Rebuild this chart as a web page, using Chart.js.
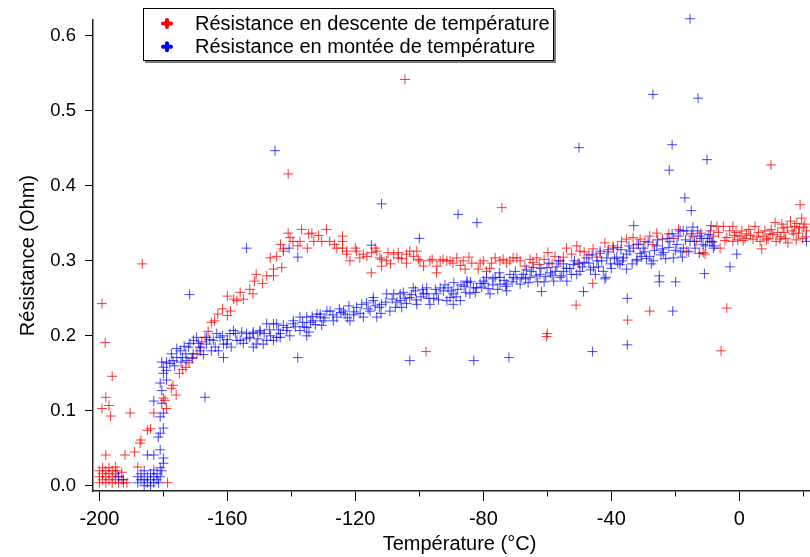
<!DOCTYPE html>
<html lang="fr">
<head>
<meta charset="utf-8">
<title>Résistance en fonction de la température</title>
<script src="https://cdn.jsdelivr.net/npm/chart.js@4/dist/chart.umd.min.js"></script>
<style>
  html, body { margin: 0; padding: 0; background: #fff; }
  canvas { display: block; }
</style>
</head>
<body>
<canvas id="c" width="810" height="557"></canvas>
<script>
// Mesures [température (°C), résistance (Ohm)]
const descente = [
  [21,0.340],[20.8,0.332],[20.5,0.349],[20,0.345],[19.8,0.330],[19.5,0.357],[19,0.375],[18.8,0.344],[18.5,0.337],[18,0.350],
  [17.8,0.328],[17.3,0.346],[17,0.336],[16.5,0.340],[16,0.353],[15.2,0.324],[15,0.345],[14.5,0.330],[14,0.338],[13.7,0.344],
  [13.3,0.349],[13,0.332],[12.7,0.329],[12,0.338],[11.5,0.326],[11.2,0.351],[10.5,0.335],[10,0.342],[9.9,0.428],[9.6,0.336],
  [9,0.330],[8.5,0.328],[8,0.340],[7.4,0.333],[7,0.316],[6.5,0.326],[6,0.338],[5.5,0.332],[4.9,0.346],[4.3,0.329],
  [3.5,0.334],[3,0.342],[2.3,0.336],[1.8,0.330],[1.2,0.327],[0.8,0.340],[0.2,0.333],[-0.5,0.328],[-1,0.338],[-1.5,0.334],
  [-2,0.346],[-2,0.326],[-3,0.340],[-3.9,0.331],[-3.9,0.237],[-4.5,0.327],[-5,0.346],[-5.7,0.180],[-6,0.317],[-6.5,0.338],
  [-7,0.346],[-8,0.333],[-8.5,0.326],[-9,0.340],[-10.7,0.309],[-11.3,0.311],[-12,0.337],[-13.3,0.326],[-14.5,0.333],[-16.4,0.313],
  [-17.5,0.340],[-19,0.342],[-20.5,0.330],[-22,0.336],[-24,0.329],[-25.8,0.337],[-27,0.322],[-28,0.333],[-28,0.233],[-29.5,0.326],
  [-31,0.329],[-32,0.322],[-33.2,0.331],[-34.9,0.221],[-35.2,0.329],[-36.8,0.326],[-38,0.318],[-39.5,0.320],[-41,0.315],[-42,0.324],
  [-43.5,0.310],[-44.5,0.305],[-45.7,0.316],[-45.8,0.270],[-47,0.308],[-48.5,0.312],[-49.8,0.313],[-50.4,0.297],[-50.8,0.320],[-51,0.241],
  [-52.4,0.309],[-54,0.317],[-55,0.305],[-56,0.300],[-57.6,0.306],[-58.5,0.296],[-59.8,0.311],[-60,0.203],[-60.2,0.199],[-61,0.302],
  [-62.5,0.295],[-63.3,0.304],[-64.5,0.298],[-65.4,0.302],[-67,0.293],[-68.5,0.300],[-69.5,0.304],[-70.7,0.304],[-71.7,0.300],[-72.7,0.297],
  [-73.8,0.302],[-74.2,0.371],[-74.8,0.300],[-76.3,0.304],[-77.4,0.297],[-78,0.290],[-79,0.286],[-80,0.300],[-81,0.297],[-81.6,0.289],
  [-83.6,0.297],[-84.5,0.305],[-85.7,0.289],[-86.3,0.300],[-87.2,0.294],[-88.3,0.304],[-89.5,0.297],[-90.4,0.300],[-91.4,0.300],[-92.6,0.302],
  [-93.5,0.300],[-94.5,0.293],[-94.6,0.284],[-96,0.302],[-96.7,0.300],[-97.9,0.179],[-98.7,0.293],[-99.8,0.300],[-100.3,0.302],[-100.8,0.313],
  [-101.8,0.306],[-103,0.313],[-104,0.297],[-104,0.309],[-104.5,0.542],[-105.5,0.303],[-106.6,0.304],[-106.6,0.311],[-108,0.309],[-109,0.296],
  [-109.8,0.311],[-110.2,0.300],[-111.8,0.293],[-111.8,0.302],[-112.3,0.304],[-113.3,0.313],[-113.8,0.317],[-114.9,0.311],[-115,0.284],[-116.4,0.306],
  [-117.5,0.309],[-118.6,0.304],[-119.6,0.313],[-120,0.317],[-121.7,0.300],[-122.7,0.309],[-122.7,0.313],[-124,0.317],[-124,0.326],[-124,0.333],
  [-125.8,0.317],[-126.5,0.322],[-128,0.326],[-129,0.342],[-130.5,0.326],[-131.5,0.334],[-133,0.326],[-133.6,0.337],[-134.6,0.336],[-135,0.317],
  [-136.8,0.342],[-137.3,0.326],[-138,0.320],[-139.5,0.326],[-140.4,0.331],[-141,0.337],[-141,0.416],[-142.5,0.313],[-142.5,0.316],[-143,0.291],
  [-143.4,0.322],[-144.6,0.306],[-145.6,0.289],[-145.6,0.280],[-146.6,0.304],[-147.7,0.280],[-149,0.270],[-151,0.282],[-151.5,0.273],[-152,0.256],
  [-153,0.262],[-155,0.249],[-156,0.258],[-157,0.247],[-158,0.249],[-159,0.233],[-160,0.253],[-160,0.227],[-161.5,0.236],[-163,0.229],
  [-164,0.220],[-165,0.218],[-166,0.206],[-167,0.198],[-168,0.192],[-168.5,0.184],[-169.5,0.176],[-171,0.171],[-172,0.164],[-173,0.158],
  [-174,0.155],[-175,0.150],[-176,0.121],[-177,0.134],[-177.5,0.130],[-178.7,0.004],[-179,0.103],[-179.5,0.114],[-180,0.117],[-183,0.097],
  [-184,0.076],[-185,0.074],[-186.6,0.296],[-187,0.061],[-187.3,0.057],[-188,0.025],[-189,0.045],[-190.4,0.097],[-191.4,0.004],[-192,0.041],
  [-192.5,0.004],[-193,0.008],[-193,0.018],[-194,0.004],[-194,0.012],[-194.5,0.020],[-195,0.008],[-195,0.016],[-195,0.025],[-196,0.004],
  [-196,0.012],[-196,0.020],[-196,0.146],[-196.5,0.093],[-197,0.008],[-197,0.016],[-197,0.024],[-197,0.107],[-198,0.004],[-198,0.012],
  [-198,0.020],[-198,0.041],[-198,0.118],[-198.2,0.191],[-199,0.008],[-199,0.016],[-199,0.024],[-199.2,0.243],[-199.2,0.103],[-200,0.004],
  [-200,0.012],[-200,0.020]
];

const montee = [
  [-194,0.012],[-192.5,0.008],[-188,0.004],[-188,0.012],[-187,0.008],[-187,0.016],[-186,0.000],[-186,0.008],[-186,0.020],[-185,0.004],
  [-185,0.012],[-184,0.000],[-184,0.008],[-184,0.016],[-183,0.004],[-183,0.012],[-183,0.021],[-182,0.008],[-182,0.016],[-181.5,0.004],
  [-181,0.012],[-181,0.024],[-180.5,0.020],[-180,0.030],[-185,0.041],[-183,0.041],[-181,0.048],[-180,0.037],[-181.6,0.065],[-181,0.070],
  [-180,0.077],[-181,0.092],[-180,0.097],[-180.5,0.110],[-183,0.113],[-180.5,0.127],[-181,0.137],[-179,0.141],[-180,0.150],[-180.5,0.165],
  [-180,0.158],[-179,0.165],[-179,0.154],[-178,0.163],[-177,0.167],[-177.5,0.176],[-176.5,0.160],[-175.8,0.183],[-175.8,0.171],[-174.7,0.180],
  [-174.5,0.165],[-174,0.171],[-173.5,0.186],[-173,0.176],[-172.7,0.167],[-172.2,0.185],[-171.8,0.255],[-171.7,0.190],[-171,0.170],[-170.7,0.176],
  [-170.6,0.194],[-169.6,0.198],[-169,0.190],[-168.5,0.185],[-168.5,0.180],[-167.5,0.175],[-167,0.118],[-166.5,0.189],[-166.5,0.198],[-165.5,0.195],
  [-165,0.180],[-164.4,0.194],[-163.8,0.185],[-163.3,0.203],[-162.8,0.180],[-162.3,0.198],[-161.5,0.200],[-161.2,0.171],[-161.2,0.189],[-160.2,0.189],
  [-160,0.195],[-159.2,0.203],[-158.8,0.185],[-158.1,0.207],[-157.5,0.203],[-157,0.194],[-156,0.194],[-155.5,0.205],[-155,0.190],[-154,0.196],
  [-154,0.317],[-154,0.203],[-153,0.198],[-152,0.203],[-151.9,0.185],[-151.9,0.205],[-151,0.189],[-150.5,0.196],[-149.8,0.205],[-149.8,0.207],
  [-148.8,0.189],[-148.5,0.203],[-147.7,0.216],[-147.7,0.194],[-146.8,0.208],[-146.5,0.200],[-145.6,0.194],[-145.6,0.216],[-145.1,0.447],[-144.6,0.216],
  [-144.6,0.198],[-144,0.208],[-143.5,0.198],[-143.4,0.203],[-142.5,0.214],[-141.4,0.207],[-141.4,0.211],[-140.7,0.317],[-140.5,0.200],[-139.4,0.216],
  [-139.4,0.220],[-138.8,0.212],[-138,0.305],[-138,0.171],[-137.3,0.207],[-137.3,0.225],[-136.5,0.218],[-136,0.212],[-135.2,0.225],[-135.2,0.211],
  [-135.2,0.200],[-134.5,0.205],[-134,0.218],[-133.5,0.226],[-133.2,0.220],[-132.5,0.215],[-132,0.229],[-131,0.225],[-131,0.229],[-130.5,0.214],
  [-130,0.220],[-129.5,0.224],[-128.9,0.233],[-127.9,0.233],[-127,0.228],[-126.9,0.220],[-125.8,0.225],[-125,0.236],[-124.5,0.231],[-123.7,0.233],
  [-123.2,0.229],[-122.5,0.224],[-122,0.240],[-121.7,0.220],[-120.5,0.228],[-120.5,0.232],[-119.6,0.238],[-118.5,0.230],[-118,0.242],[-117.5,0.225],
  [-116.5,0.244],[-116,0.236],[-115.4,0.233],[-115,0.321],[-114.4,0.247],[-114.4,0.251],[-113.8,0.240],[-113.3,0.225],[-112.5,0.238],[-112,0.230],
  [-111.8,0.242],[-111.8,0.376],[-110.5,0.245],[-110.2,0.256],[-109.2,0.233],[-108.5,0.249],[-108,0.256],[-107.5,0.238],[-107,0.245],[-106,0.256],
  [-106,0.247],[-105.5,0.238],[-105,0.258],[-104.5,0.250],[-104,0.243],[-103,0.251],[-103,0.167],[-102.5,0.255],[-101.9,0.264],[-101.2,0.260],
  [-101,0.248],[-100.8,0.242],[-100,0.330],[-99.5,0.252],[-99,0.262],[-98.7,0.256],[-97.7,0.264],[-97.7,0.256],[-97,0.250],[-96.7,0.242],
  [-95.5,0.250],[-95,0.262],[-94.6,0.256],[-94,0.248],[-93.5,0.264],[-92.5,0.260],[-92,0.268],[-91.4,0.247],[-91,0.264],[-90.4,0.251],
  [-90,0.260],[-89.4,0.242],[-89.4,0.256],[-89.2,0.271],[-88.5,0.252],[-88,0.262],[-87.9,0.362],[-87.2,0.247],[-87,0.268],[-86,0.266],
  [-85.5,0.258],[-85.1,0.271],[-85.1,0.273],[-84.2,0.256],[-84,0.272],[-83.1,0.264],[-83,0.167],[-82.5,0.258],[-82.1,0.264],[-82,0.351],
  [-81,0.270],[-80.5,0.265],[-80,0.273],[-79.5,0.270],[-79,0.278],[-78.5,0.263],[-77.9,0.256],[-77,0.268],[-77,0.276],[-76.3,0.278],
  [-75.5,0.262],[-75,0.284],[-74.8,0.269],[-74.8,0.278],[-73.5,0.274],[-73,0.266],[-72.7,0.260],[-72.7,0.269],[-72,0.171],[-71.7,0.282],
  [-71,0.272],[-70.6,0.278],[-70,0.286],[-69.5,0.276],[-68.5,0.269],[-68,0.278],[-67.5,0.282],[-66.8,0.276],[-66.5,0.288],[-66,0.271],
  [-65.4,0.278],[-65,0.286],[-64.4,0.291],[-63.5,0.280],[-63,0.272],[-62.3,0.282],[-62,0.290],[-61.8,0.259],[-61,0.272],[-60.5,0.279],
  [-60.1,0.291],[-59.5,0.297],[-59,0.284],[-58.5,0.281],[-58,0.273],[-57.5,0.286],[-57,0.292],[-56.5,0.300],[-56,0.278],[-55.5,0.280],
  [-55,0.296],[-54.9,0.286],[-54,0.290],[-53.9,0.273],[-53,0.290],[-52.5,0.282],[-51.9,0.295],[-51.5,0.300],[-50.8,0.282],[-50.1,0.451],
  [-50,0.296],[-49.8,0.286],[-49,0.292],[-48.7,0.259],[-48.5,0.298],[-47.7,0.304],[-47,0.297],[-46.5,0.288],[-46,0.308],[-45.9,0.179],
  [-45.6,0.291],[-45,0.282],[-44.5,0.300],[-44,0.292],[-43.5,0.313],[-43,0.300],[-42.5,0.286],[-42,0.276],[-41.7,0.278],[-41.4,0.304],
  [-41,0.312],[-40.3,0.296],[-40,0.290],[-39.3,0.317],[-39,0.303],[-38.3,0.305],[-38,0.297],[-37.3,0.295],[-37,0.315],[-36.5,0.300],
  [-36.2,0.304],[-35.2,0.309],[-35.2,0.289],[-35,0.250],[-35,0.188],[-34.5,0.320],[-34.2,0.313],[-33.5,0.296],[-33.1,0.317],[-33,0.347],
  [-32,0.300],[-32,0.302],[-31.5,0.322],[-31,0.310],[-30.5,0.306],[-30,0.317],[-29.5,0.312],[-29,0.303],[-28.5,0.325],[-28,0.306],
  [-27.5,0.296],[-27,0.522],[-26.9,0.300],[-26.5,0.314],[-25.8,0.320],[-25.5,0.328],[-25,0.280],[-25,0.272],[-24.5,0.308],[-24,0.316],
  [-23.7,0.311],[-23,0.303],[-22.5,0.330],[-22,0.318],[-21.9,0.421],[-21.7,0.326],[-21,0.455],[-21,0.336],[-20.8,0.233],[-20.6,0.304],
  [-20,0.314],[-19.9,0.272],[-19.5,0.322],[-19.1,0.333],[-18.5,0.340],[-18.3,0.312],[-17.8,0.305],[-17.5,0.317],[-17,0.384],[-16.8,0.328],
  [-16.4,0.340],[-15.8,0.312],[-15.4,0.623],[-15.4,0.326],[-15,0.367],[-15,0.336],[-14.5,0.345],[-14,0.326],[-13.8,0.317],[-13,0.340],
  [-12.9,0.517],[-12.5,0.310],[-12.3,0.333],[-11.8,0.330],[-11.3,0.322],[-10.9,0.283],[-10.5,0.320],[-10.1,0.435],[-10,0.330],[-9.5,0.335],
  [-9.2,0.326],[-8.8,0.347],[-8.5,0.325],[-8.1,0.317],[-7.8,0.320],[-2.9,0.292],[-0.8,0.309],[21,0.326]
];

// Graduations de l'axe des températures (majeures étiquetées, mineures entre elles)
const xMajorTicks = [-200, -160, -120, -80, -40, 0];
const xMinorTicks = [-180, -140, -100, -60, -20, 20];
const yTicks = [0.0, 0.1, 0.2, 0.3, 0.4, 0.5, 0.6];

const seriesLabels = ['Résistance en descente de température', 'Résistance en montée de température'];
const seriesColors = ['rgba(255,0,0,0.78)', 'rgba(0,0,255,0.72)'];
const legendColors = ['#ff0000', '#0000ff'];
const xTitle = 'Température (°C)';
const yTitle = 'Résistance (Ohm)';

const FONT = "'Liberation Sans', Arial, sans-serif";

const toPoints = arr => arr.map(([t, r]) => ({ x: t, y: r }));

// Légende encadrée avec ombre portée, et titre de l'axe des températures
const boxedLegend = {
  id: 'boxedLegend',
  afterDraw(chart) {
    const ctx = chart.ctx;
    const bx = 143, by = 8, bw = 411, bh = 53;
    ctx.save();
    ctx.fillStyle = '#7a7a7a';
    ctx.fillRect(bx + 2, by + 2, bw, bh);
    ctx.fillStyle = '#ffffff';
    ctx.fillRect(bx, by, bw, bh);
    ctx.strokeStyle = '#000';
    ctx.lineWidth = 1;
    ctx.strokeRect(bx + 0.5, by + 0.5, bw - 1, bh - 1);
    chart.data.datasets.forEach((ds, i) => {
      const cy = 23.5 + i * 23.3;
      const cx = 167;
      ctx.strokeStyle = legendColors[i];
      ctx.lineWidth = 4;
      ctx.lineCap = 'round';
      ctx.beginPath();
      ctx.moveTo(cx - 4, cy); ctx.lineTo(cx + 4, cy);
      ctx.moveTo(cx, cy - 3.5); ctx.lineTo(cx, cy + 3.5);
      ctx.stroke();
      ctx.fillStyle = '#000';
      ctx.font = '20px ' + FONT;
      ctx.textAlign = 'left';
      ctx.textBaseline = 'alphabetic';
      ctx.fillText(ds.label, 195, 30 + i * 23.3);
    });

    ctx.fillStyle = '#000';
    ctx.font = '20px ' + FONT;
    ctx.textAlign = 'center';
    ctx.textBaseline = 'middle';
    ctx.fillText(xTitle, 459.5, 544);
    ctx.restore();
  }
};

new Chart(document.getElementById('c'), {
  type: 'scatter',
  data: {
    datasets: [
      {
        label: seriesLabels[0],
        data: toPoints(descente),
        pointStyle: 'cross',
        pointRadius: 5,
        pointHoverRadius: 5,
        borderWidth: 1,
        borderColor: seriesColors[0],
        backgroundColor: seriesColors[0],
        order: 2,
        clip: false
      },
      {
        label: seriesLabels[1],
        data: toPoints(montee),
        pointStyle: 'cross',
        pointRadius: 5,
        pointHoverRadius: 5,
        borderWidth: 1,
        borderColor: seriesColors[1],
        backgroundColor: seriesColors[1],
        order: 1,
        clip: false
      }
    ]
  },
  options: {
    responsive: false,
    animation: false,
    devicePixelRatio: 1,
    events: [],
    layout: { autoPadding: false, padding: { top: 17, right: 0, bottom: 0, left: 0 } },
    plugins: {
      legend: { display: false },
      tooltip: { enabled: false }
    },
    scales: {
      x: {
        type: 'linear',
        position: 'bottom',
        min: -202,
        max: 22.1,
        afterFit(scale) { scale.height = 66; },
        afterBuildTicks(scale) {
          scale.ticks = [...xMajorTicks, ...xMinorTicks].sort((a, b) => a - b).map(v => ({ value: v }));
        },
        border: { display: true, color: '#222', width: 1.5 },
        grid: {
          drawOnChartArea: false,
          drawTicks: true,
          tickLength: 10,
          tickColor: '#000',
          tickWidth: 1,
          tickBorderDash: ctx => (ctx.tick && xMajorTicks.includes(ctx.tick.value)) ? [] : [5, 30]
        },
        ticks: {
          autoSkip: false,
          maxRotation: 0,
          padding: 6,
          color: '#000',
          font: { family: FONT, size: 20 },
          callback: v => xMajorTicks.includes(v) ? String(v) : ''
        },
        title: { display: false }
      },
      y: {
        type: 'linear',
        position: 'left',
        min: -0.007,
        max: 0.6212,
        afterFit(scale) { scale.width = 93; },
        afterBuildTicks(scale) {
          scale.ticks = yTicks.map(v => ({ value: v }));
        },
        border: { display: true, color: '#222', width: 1.5 },
        grid: {
          drawOnChartArea: false,
          drawTicks: true,
          tickLength: 8,
          tickColor: '#000',
          tickWidth: 1
        },
        ticks: {
          padding: 9,
          color: '#000',
          font: { family: FONT, size: 18.5 },
          callback: v => Number(v).toFixed(1)
        },
        title: {
          display: true,
          text: yTitle,
          color: '#000',
          font: { family: FONT, size: 20 },
          padding: { top: 16, bottom: 0 }
        }
      }
    }
  },
  plugins: [boxedLegend]
});
</script>
</body>
</html>
